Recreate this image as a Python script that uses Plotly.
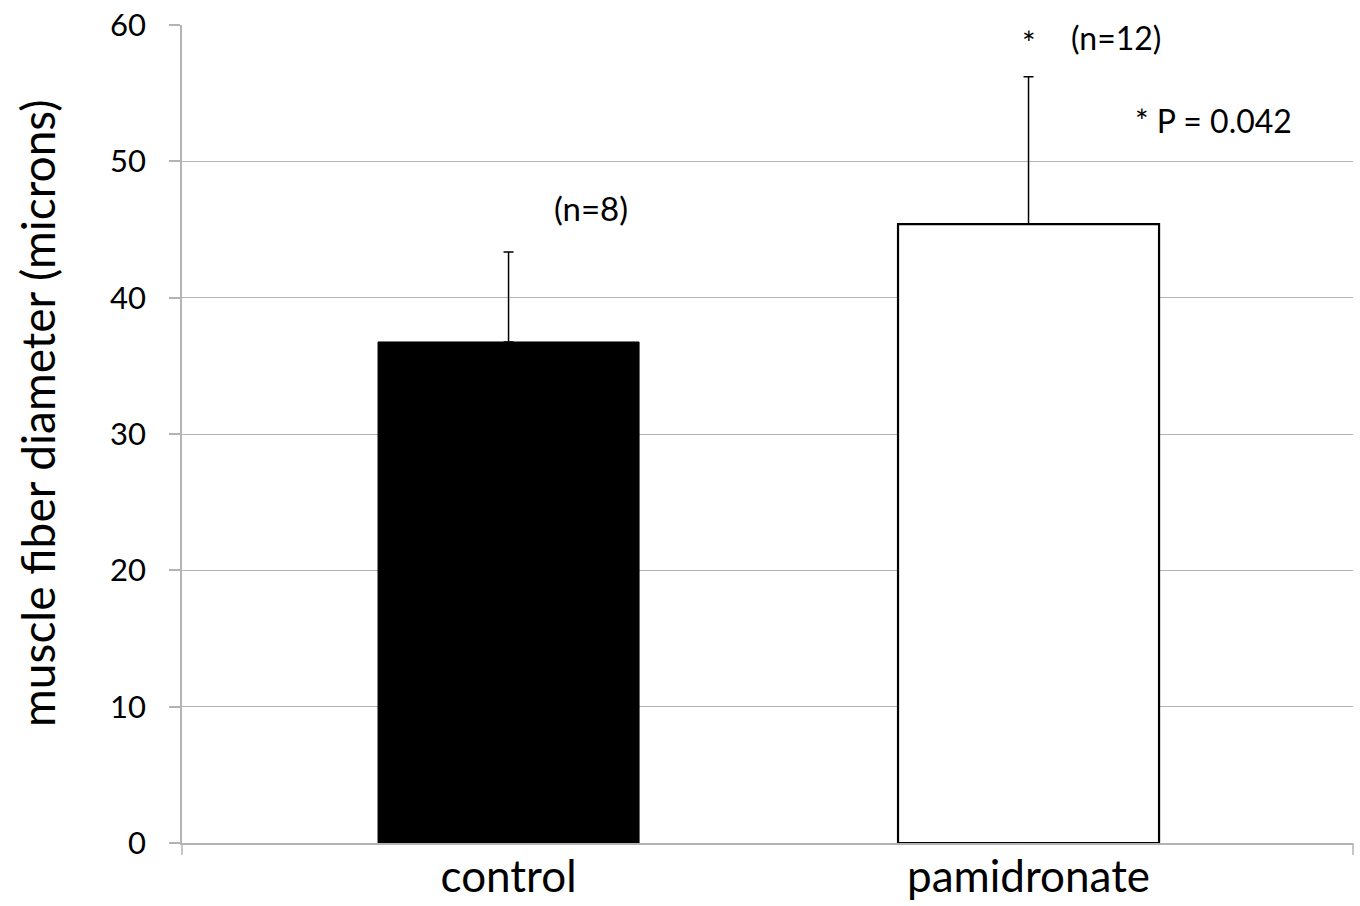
import plotly.graph_objects as go

categories = ["control", "pamidronate"]
means = [36.75, 45.4]
sds = [6.6, 10.8]
fill_colors = ["black", "white"]
n_labels = ["(n=8)", "(n=12)"]
y_ticks = [0, 10, 20, 30, 40, 50, 60]

FONT = "Lato"
GRID = "#b3b3b3"

fig = go.Figure()
fig.add_trace(go.Bar(
    x=categories, y=means, width=0.502,
    marker=dict(color=fill_colors, line=dict(color="black", width=[1, 2.2])),
    error_y=dict(type="data", array=sds, arrayminus=[0, 0], symmetric=False,
                 color="black", thickness=1.5, width=5),
    showlegend=False,
))

annotations = [
    dict(text="muscle fiber diameter (microns)", textangle=-90, xref="paper", yref="paper",
         x=(38 - 182) / 1171, y=(843 - 413) / 818, showarrow=False,
         font=dict(family=FONT, size=46, color="black"), xanchor="center", yanchor="middle"),
    dict(text=n_labels[0], x=0.159, y=46.6, xref="x", yref="y", showarrow=False,
         font=dict(family=FONT, size=33, color="black")),
    dict(text="*", x=1.0, y=58.7, xref="x", yref="y", showarrow=False,
         font=dict(family=FONT, size=32, color="black")),
    dict(text=n_labels[1], x=1.168, y=59.05, xref="x", yref="y", showarrow=False,
         font=dict(family=FONT, size=32, color="black")),
    dict(text="* P = 0.042", x=1.356, y=53.0, xref="x", yref="y", showarrow=False,
         font=dict(family=FONT, size=32, color="black")),
]

shapes = [
    dict(type="line", xref="paper", yref="paper", x0=0, x1=0, y0=0, y1=-12 / 818,
         line=dict(color=GRID, width=1.5)),
    dict(type="line", xref="paper", yref="paper", x0=1, x1=1, y0=0, y1=-12 / 818,
         line=dict(color=GRID, width=1.5)),
]

fig.update_layout(
    width=1360, height=906,
    margin=dict(l=182, r=7, t=25, b=63),
    paper_bgcolor="white", plot_bgcolor="white",
    font=dict(family=FONT, color="black"),
    annotations=annotations,
    shapes=shapes,
    xaxis=dict(type="category", range=[-0.628, 1.624], showgrid=False, automargin=False,
               showline=True, linecolor=GRID, linewidth=1.5, ticks="",
               ticklabelstandoff=-6,
               tickfont=dict(family=FONT, size=44, color="black")),
    yaxis=dict(range=[0, 60], tickvals=y_ticks, showgrid=True, gridcolor=GRID, gridwidth=1,
               automargin=False,
               zeroline=False, showline=True, linecolor=GRID, linewidth=1.5,
               ticks="outside", ticklen=11, tickcolor=GRID, tickwidth=1.5,
               ticklabelstandoff=17,
               tickfont=dict(family=FONT, size=31, color="black")),
)

fig.write_html("out.html")
